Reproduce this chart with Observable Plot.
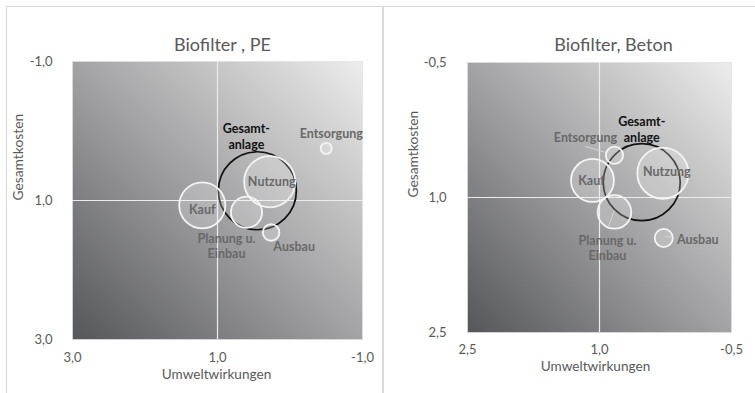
<!DOCTYPE html>
<html>
<head>
<meta charset="utf-8">
<script src="https://cdn.jsdelivr.net/npm/d3@7"></script>
<script src="https://cdn.jsdelivr.net/npm/@observablehq/plot@0.6"></script>
<style>
  html, body { margin: 0; padding: 0; background: #fff; }
  #wrap { position: relative; width: 755px; height: 393px; overflow: hidden; font-family: Lato, "Open Sans", sans-serif; }
  .panel { position: absolute; top: 0; }
  .line { position: absolute; background: #d9d9d9; }
</style>
</head>
<body>
<div id="wrap">
  <div class="line" style="left:6px; top:6px; width:749px; height:1px;"></div>
  <div class="line" style="left:6px; top:6px; width:1px; height:387px;"></div>
  <div class="line" style="left:382px; top:6px; width:2px; height:387px;"></div>
  <div id="p1" class="panel" style="left:0px;"></div>
  <div id="p2" class="panel" style="left:380px;"></div>
</div>
<script>
// ---- data ----
const stages = ["Gesamtanlage", "Kauf", "Planung u. Einbau", "Nutzung", "Ausbau", "Entsorgung"];
const stageLabels = ["Gesamt-\nanlage", "Kauf", "Planung u.\nEinbau", "Nutzung", "Ausbau", "Entsorgung"];

// Biofilter, PE
const peUmwelt = [0.45, 1.21, 0.60, 0.28, 0.26, -0.50];
const peKosten = [0.86, 1.07, 1.17, 0.73, 1.46, 0.25];
const peAnteil = [100, 35, 16, 43, 4.5, 2];
const peTicks = { x: [3, 1, -1], y: [-1, 1, 3] };

// Biofilter, Beton
const betonUmwelt = [0.52, 1.08, 0.83, 0.28, 0.27, 0.83];
const betonKosten = [0.83, 0.81, 1.16, 0.73, 1.45, 0.53];
const betonAnteil = [100, 31, 19, 44, 5.5, 5];
const betonTicks = { x: [2.5, 1, -0.5], y: [-0.5, 1, 2.5] };

// ---- layout (label placement in px relative to bubble) ----
const peLayout = {
  dx: [-11, 0, -20, 2, 23, 5],
  dy: [-55, 4, 33.5, -1, 14, -15],
  leaders: []
};
const betonLayout = {
  dx: [0, -1, -7, 4, 34, -29],
  dy: [-53.5, 0, 36, -2, 1, -18],
  leaders: [
    { i: 5, a: [-28.7, -8.3], b: [-9.7, -2.6] },
    { i: 2, a: [-5.4, 15], b: [0.3, -1] },
    { i: 4, a: [2, -0.8], b: [8.7, -0.8] }
  ]
};

const fmt = d => d.toFixed(1).replace(".", ",");
const FONT = "Lato, 'Open Sans', sans-serif";
const GRAY = "#595959";

function makePanel(cfg) {
  const rows = stages.map((s, i) => ({
    stage: s, label: stageLabels[i], x: cfg.ux[i], y: cfg.ky[i], s: cfg.size[i], i
  }));
  const total = rows.filter(d => d.i === 0);
  const parts = rows.filter(d => d.i !== 0);
  const gid = cfg.id + "-grad";

  const defsMark = () => {
    const g = d3.create("svg:g");
    const lg = g.append("defs").append("linearGradient")
      .attr("id", gid).attr("x1", 0).attr("y1", 1).attr("x2", 1).attr("y2", 0);
    lg.append("stop").attr("offset", "0%").attr("stop-color", "#55565a");
    lg.append("stop").attr("offset", "50%").attr("stop-color", "#a3a3a5");
    lg.append("stop").attr("offset", "100%").attr("stop-color", "#ededed");
    return g.node();
  };

  const leaderMark = (index, scales) => {
    const g = d3.create("svg:g");
    for (const L of cfg.layout.leaders) {
      const d = rows[L.i];
      const cx = scales.x(d.x), cy = scales.y(d.y);
      g.append("line")
        .attr("x1", cx + L.a[0]).attr("y1", cy + L.a[1])
        .attr("x2", cx + L.b[0]).attr("y2", cy + L.b[1])
        .attr("stroke", "#d6d6d6").attr("stroke-width", 1);
    }
    return g.node();
  };

  const labelMarks = rows.map(d => Plot.text([d], {
    x: "x", y: "y", text: "label",
    dx: cfg.layout.dx[d.i], dy: cfg.layout.dy[d.i],
    fontSize: 12.5, fontWeight: "bold",
    fill: d.i === 0 ? "#111" : "#686868",
    lineHeight: d.i === 0 ? 1.28 : 1.2
  }));

  return Plot.plot({
    width: cfg.width,
    height: 393,
    marginLeft: cfg.ml, marginRight: cfg.mr, marginTop: cfg.mt, marginBottom: cfg.mb,
    style: { fontFamily: FONT, color: GRAY, background: "transparent", overflow: "visible" },
    x: { domain: [cfg.ticks.x[0], cfg.ticks.x[2]], ticks: cfg.ticks.x },
    y: { domain: [cfg.ticks.y[2], cfg.ticks.y[0]], ticks: cfg.ticks.y },
    r: { type: "sqrt", domain: [0, 100], range: [0, cfg.rmax] },
    marks: [
      defsMark,
      Plot.frame({ fill: `url(#${gid})`, stroke: "#e0e0e0", strokeOpacity: 0.7 }),
      Plot.ruleX([1], { stroke: "#ececec", strokeWidth: 1.2 }),
      Plot.ruleY([1], { stroke: "#ececec", strokeWidth: 1.2 }),
      Plot.axisX({ ticks: cfg.ticks.x, tickFormat: fmt, tickSize: 0, tickPadding: cfg.xpad, label: null, fontSize: 13, fill: GRAY }),
      Plot.axisY({ ticks: cfg.ticks.y, tickFormat: fmt, tickSize: 0, tickPadding: cfg.ypad, label: null, fontSize: 13, fill: GRAY }),
      Plot.dot(total, { x: "x", y: "y", r: "s", stroke: "#111", strokeWidth: 1.7, fill: "none" }),
      Plot.dot(parts, { x: "x", y: "y", r: "s", stroke: "#f4f4f4", strokeWidth: 1.8, fill: "#ffffff", fillOpacity: 0.22 }),
      leaderMark,
      ...labelMarks,
      Plot.text([cfg.title], { frameAnchor: "top", dy: cfg.tdy, dx: cfg.tdx, fontSize: 18, fill: GRAY }),
      Plot.text(["Umweltwirkungen"], { frameAnchor: "bottom", dy: cfg.xtdy, dx: cfg.xtdx, fontSize: 13.6, fill: GRAY }),
      Plot.text(["Gesamtkosten"], { frameAnchor: "left", dx: -54, rotate: -90, fontSize: 13.8, fill: GRAY })
    ]
  });
}

document.getElementById("p1").append(makePanel({
  id: "pe", title: "Biofilter , PE", ux: peUmwelt, ky: peKosten, size: peAnteil, ticks: peTicks,
  layout: peLayout, width: 380, ml: 72, mr: 18, mt: 61, mb: 54, rmax: 39,
  xpad: 13, ypad: 20, tdy: -23, tdx: 5, xtdy: 39.5, xtdx: -1
}));
document.getElementById("p2").append(makePanel({
  id: "beton", title: "Biofilter, Beton", ux: betonUmwelt, ky: betonKosten, size: betonAnteil, ticks: betonTicks,
  layout: betonLayout, width: 375, ml: 87, mr: 24, mt: 62, mb: 61, rmax: 38.5,
  xpad: 12, ypad: 21, tdy: -24, tdx: 14, xtdy: 38, xtdx: -4
}));
</script>
</body>
</html>
